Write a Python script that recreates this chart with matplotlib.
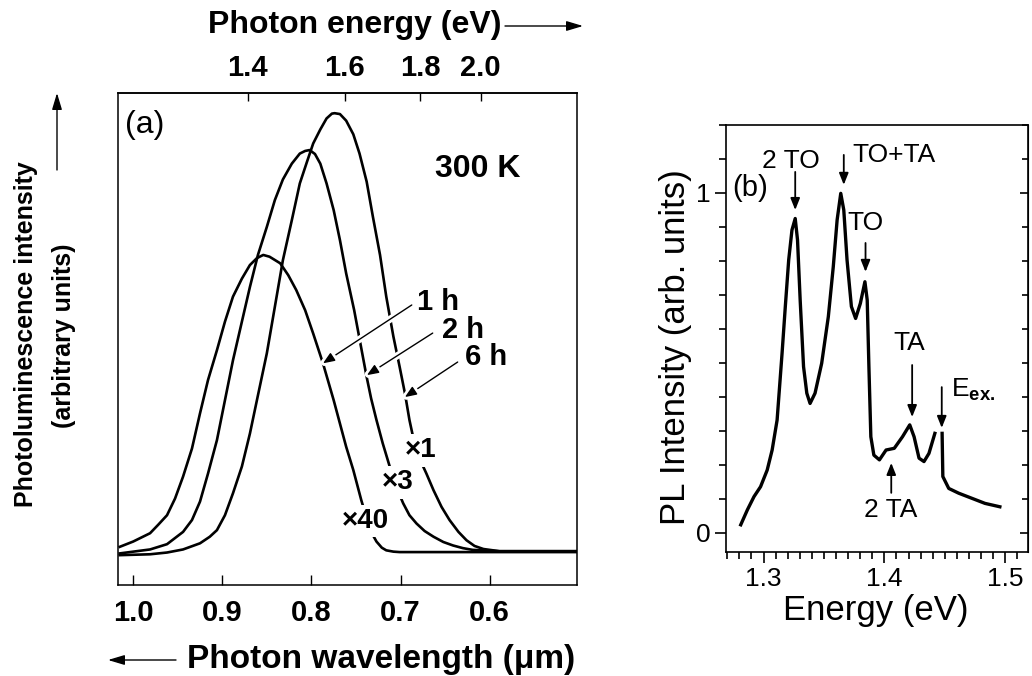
import matplotlib
matplotlib.use("Agg")
import matplotlib.pyplot as plt
import matplotlib.patheffects as pe
from matplotlib.ticker import MultipleLocator
import numpy as np

plt.rcParams["font.family"] = ["Liberation Sans", "DejaVu Sans"]
plt.rcParams["mathtext.fontset"] = "custom"
plt.rcParams["mathtext.rm"] = "Liberation Sans"
plt.rcParams["mathtext.bf"] = "Liberation Sans:bold"

# ---- (a) PL spectra, wavelength (um) vs intensity (6 h peak = 1) ----
wl_6h = [1.015, 0.981, 0.962, 0.944, 0.925, 0.914, 0.906, 0.897, 0.888, 0.878,
         0.869, 0.860, 0.850, 0.841, 0.832, 0.822, 0.813, 0.805, 0.798, 0.790,
         0.783, 0.777, 0.774, 0.768, 0.761, 0.753, 0.746, 0.738, 0.731, 0.723,
         0.716, 0.708, 0.701, 0.695, 0.690, 0.684, 0.678, 0.671, 0.663, 0.654,
         0.645, 0.635, 0.626, 0.617, 0.607, 0.589, 0.503]
pl_6h = [-0.007, -0.005, -0.001, 0.006, 0.020, 0.035, 0.050, 0.084, 0.134, 0.195,
         0.270, 0.357, 0.453, 0.559, 0.665, 0.756, 0.840, 0.889, 0.931, 0.963,
         0.988, 0.999, 1.000, 0.998, 0.983, 0.952, 0.908, 0.844, 0.764, 0.677,
         0.582, 0.491, 0.422, 0.361, 0.301, 0.244, 0.210, 0.179, 0.141, 0.103,
         0.073, 0.046, 0.027, 0.014, 0.007, 0.002, 0.002]

wl_2h = [1.015, 0.981, 0.962, 0.944, 0.934, 0.925, 0.916, 0.906, 0.897, 0.888,
         0.878, 0.869, 0.860, 0.850, 0.841, 0.832, 0.822, 0.813, 0.807, 0.802,
         0.796, 0.790, 0.783, 0.775, 0.768, 0.761, 0.752, 0.744, 0.738, 0.733,
         0.727, 0.720, 0.712, 0.705, 0.697, 0.690, 0.682, 0.673, 0.663, 0.652,
         0.641, 0.630, 0.619, 0.589, 0.503]
pl_2h = [-0.003, 0.006, 0.018, 0.046, 0.073, 0.115, 0.179, 0.255, 0.346, 0.437,
         0.525, 0.604, 0.677, 0.741, 0.802, 0.849, 0.885, 0.908, 0.914, 0.916,
         0.907, 0.885, 0.840, 0.779, 0.711, 0.635, 0.551, 0.464, 0.399, 0.350,
         0.301, 0.248, 0.194, 0.149, 0.111, 0.084, 0.065, 0.048, 0.035, 0.023,
         0.015, 0.009, 0.005, 0.002, 0.002]

wl_1h = [1.015, 1.000, 0.981, 0.972, 0.962, 0.953, 0.944, 0.934, 0.925, 0.916,
         0.906, 0.897, 0.888, 0.878, 0.869, 0.861, 0.854, 0.847, 0.835, 0.826,
         0.817, 0.807, 0.798, 0.787, 0.775, 0.768, 0.761, 0.753, 0.744, 0.738,
         0.733, 0.727, 0.721, 0.716, 0.708, 0.701, 0.503]
pl_1h = [0.012, 0.024, 0.043, 0.062, 0.084, 0.122, 0.172, 0.236, 0.316, 0.392,
         0.460, 0.525, 0.582, 0.623, 0.654, 0.670, 0.677, 0.673, 0.658, 0.631,
         0.597, 0.551, 0.498, 0.430, 0.346, 0.293, 0.240, 0.187, 0.118, 0.077,
         0.046, 0.024, 0.010, 0.004, 0.001, 0.000, 0.000]

wl_ticks = [1.0, 0.9, 0.8, 0.7, 0.6]
ev_ticks = [1.4, 1.6, 1.8, 2.0]
HC = 1.22  # eV*um, matches where the figure puts its energy ticks

# ---- (b) PL spectrum vs energy ----
e_b = [1.2811, 1.2866, 1.2921, 1.2975, 1.3030, 1.3071, 1.3112, 1.3153, 1.3180, 1.3208,
       1.3235, 1.3262, 1.3281, 1.3303, 1.3331, 1.3358, 1.3385, 1.3426, 1.3481, 1.3536,
       1.3577, 1.3609, 1.3639, 1.3664, 1.3691, 1.3727, 1.3762, 1.3801, 1.3839, 1.3858,
       1.3872, 1.3888, 1.3913, 1.3959, 1.4014, 1.4082, 1.4150, 1.4210, 1.4246, 1.4287,
       1.4328, 1.4369, 1.4418, np.nan, 1.4478, 1.4484, 1.4533, 1.4615, 1.4724, 1.4833,
       1.4956]
pl_b = [0.024, 0.068, 0.107, 0.136, 0.185, 0.244, 0.332, 0.528, 0.666, 0.803,
        0.891, 0.925, 0.862, 0.685, 0.489, 0.411, 0.381, 0.411, 0.499, 0.636,
        0.783, 0.921, 0.999, 0.950, 0.803, 0.666, 0.631, 0.675, 0.739, 0.685,
        0.489, 0.283, 0.229, 0.215, 0.244, 0.249, 0.283, 0.318, 0.283, 0.220,
        0.210, 0.234, 0.293, np.nan, 0.293, 0.166, 0.131, 0.117, 0.102, 0.087,
        0.077]


def wl_to_ev(w):
    w = np.asarray(w, dtype=float)
    with np.errstate(divide="ignore", invalid="ignore"):
        return HC / w


def pointer(ax, tail, tip, lw=1.0, halo=True, coords="data", head=(0.7, 0.28)):
    props = dict(arrowstyle=f"-|>,head_length={head[0]},head_width={head[1]}",
                 color="k", lw=lw, shrinkA=0, shrinkB=0)
    if halo:
        props["path_effects"] = [pe.withStroke(linewidth=5, foreground="white")]
    ax.annotate("", xy=tip, xytext=tail, xycoords=coords, textcoords=coords,
                arrowprops=props, zorder=5, annotation_clip=False)


W, H = 1032, 676
fig = plt.figure(figsize=(W/100, H/100), dpi=100)

# ---------------- panel (a) ----------------
ax = fig.add_axes([118/W, 1-585/H, 459/W, 492/H])
for wl, pl in [(wl_1h, pl_1h), (wl_2h, pl_2h), (wl_6h, pl_6h)]:
    ax.plot(wl, pl, color="k", lw=1.9, zorder=2)
ax.set_xlim(1.017, 0.502)
ax.set_ylim(-0.075, 1.046)
ax.set_yticks([])
ax.set_xticks(wl_ticks)
ax.set_xticklabels([f"{t:.1f}" for t in wl_ticks], fontweight="bold")
ax.tick_params(axis="x", direction="in", length=7, width=1, pad=10, labelsize=21)
for s in ax.spines.values():
    s.set_linewidth(1.1)

sec = ax.secondary_xaxis("top", functions=(wl_to_ev, wl_to_ev))
sec.set_xticks(ev_ticks)
sec.set_xticklabels([f"{t:.1f}" for t in ev_ticks], fontweight="bold")
sec.tick_params(direction="in", length=6, width=1, pad=8, labelsize=21)
sec.spines["top"].set_linewidth(1.1)

ax.text(0.015, 0.965, "(a)", transform=ax.transAxes, fontsize=23, ha="left", va="top")
ax.text(0.784, 0.846, "300 K", transform=ax.transAxes, fontsize=23, fontweight="bold",
        ha="center", va="center")

hours = ["1 h", "2 h", "6 h"]
hour_txt = [(0.6818, 0.551), (0.6538, 0.4875), (0.628, 0.426)]
hour_tail = [(0.6874, 0.563), (0.6639, 0.499), (0.6359, 0.433)]
hour_tip = [(0.7871, 0.430), (0.7378, 0.403), (0.6952, 0.353)]
for lab, xy, tail, tip in zip(hours, hour_txt, hour_tail, hour_tip):
    ax.text(xy[0], xy[1], lab, fontsize=21, fontweight="bold", ha="left",
            va="baseline", zorder=6)
    pointer(ax, tail, tip, lw=1.0)

scales = ["×1", "×3", "×40"]
scale_xy = [(0.6773, 0.232), (0.7031, 0.159), (0.7389, 0.0706)]
for lab, xy in zip(scales, scale_xy):
    ax.text(xy[0], xy[1], lab, fontsize=20, fontweight="bold", ha="center", va="center",
            bbox=dict(fc="white", ec="none", pad=2.5), zorder=4)

# outer axis titles of (a)
fig.text(208/W, 1-33/H, "Photon energy (eV)", fontsize=23, fontweight="bold",
         ha="left", va="baseline")
pointer(ax, (505/W, 1-26/H), (583/W, 1-26/H), lw=1.0, halo=False,
        coords="figure fraction", head=(1.0, 0.3))
fig.text(187/W, 1-668/H, "Photon wavelength (μm)", fontsize=24, fontweight="bold",
         ha="left", va="baseline")
pointer(ax, (176/W, 1-660/H), (108/W, 1-660/H), lw=1.0, halo=False,
        coords="figure fraction", head=(1.0, 0.3))
fig.text(26/W, 1-334/H, "Photoluminescence intensity", fontsize=18, fontweight="bold",
         rotation=90, ha="center", va="center")
fig.text(64/W, 1-336/H, "(arbitrary units)", fontsize=18, fontweight="bold",
         rotation=90, ha="center", va="center")
pointer(ax, (57/W, 1-170/H), (57/W, 1-93/H), lw=1.0, halo=False,
        coords="figure fraction", head=(1.0, 0.3))

# ---------------- panel (b) ----------------
bx = fig.add_axes([726/W, 1-552/H, 302/W, 427/H])
bx.plot(e_b, pl_b, color="k", lw=2.4, zorder=2, solid_joinstyle="round")
bx.set_xlim(1.2689, 1.5189)
bx.set_ylim(-0.056, 1.2)
bx.set_xticks([1.3, 1.4, 1.5])
bx.xaxis.set_minor_locator(MultipleLocator(0.01))
bx.set_yticks([0, 1])
bx.yaxis.set_minor_locator(MultipleLocator(0.1))
bx.tick_params(axis="both", which="major", direction="out", length=8, width=1.2,
               labelsize=19, pad=3)
bx.tick_params(axis="both", which="minor", direction="out", length=5, width=1.2)
for s in bx.spines.values():
    s.set_linewidth(1.2)

rb = bx.secondary_yaxis("right")
rb.set_yticks([0, 1])
rb.yaxis.set_minor_locator(MultipleLocator(0.1))
rb.tick_params(which="major", direction="in", length=6, width=1.2, labelright=False)
rb.tick_params(which="minor", direction="in", length=4, width=1.2)

bx.text(0.02, 0.885, "(b)", transform=bx.transAxes, fontsize=21, ha="left", va="top")
fig.text(676/W, 1-347/H, "PL Intensity (arb. units)", fontsize=25, rotation=90,
         ha="center", va="center")
fig.text(876/W, 1-620/H, "Energy (eV)", fontsize=25, ha="center", va="baseline")

peaks = ["2 TO", "TO+TA", "TO", "TA", "E$_{\\mathbf{ex.}}$", "2 TA"]
peak_txt = [(1.3230, 1.074, "center", "baseline"), (1.4082, 1.091, "center", "baseline"),
            (1.3844, 0.891, "center", "baseline"), (1.4205, 0.538, "center", "baseline"),
            (1.4549, 0.400, "left", "baseline"), (1.4050, 0.103, "center", "top")]
peak_tail = [(1.3262, 1.062), (1.3664, 1.112), (1.3844, 0.853), (1.4230, 0.494),
             (1.4475, 0.429), (1.4057, 0.118)]
peak_tip = [(1.3262, 0.950), (1.3664, 1.024), (1.3844, 0.768), (1.4230, 0.341),
            (1.4475, 0.309), (1.4057, 0.206)]
for lab, (x, y, ha, va), tail, tip in zip(peaks, peak_txt, peak_tail, peak_tip):
    bx.text(x, y, lab, fontsize=19, ha=ha, va=va)
    pointer(bx, tail, tip, lw=1.3, halo=False)

fig.savefig("out.png", dpi=100)
